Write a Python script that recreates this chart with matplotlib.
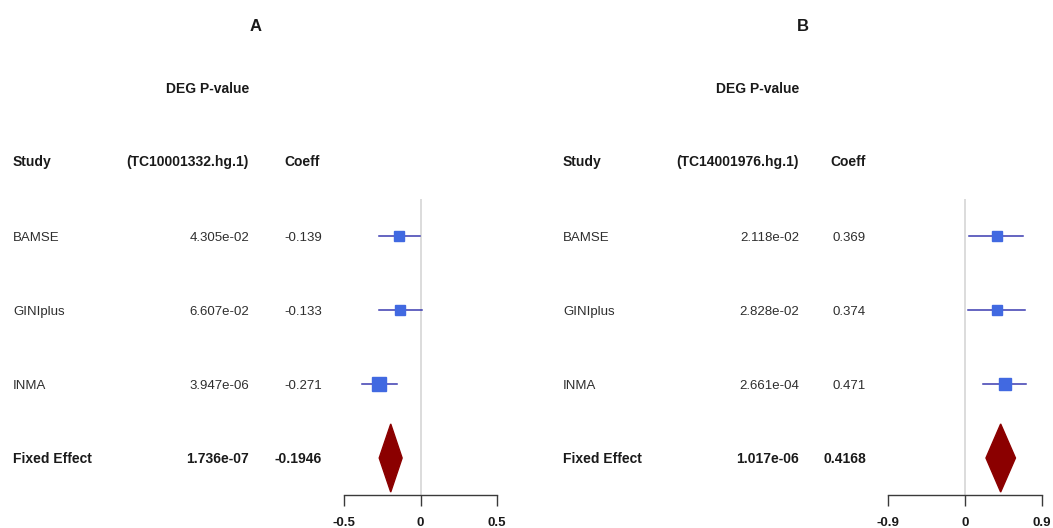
import matplotlib
matplotlib.use("Agg")
import matplotlib.pyplot as plt
from matplotlib.patches import Polygon

plt.rcParams["font.family"] = ["Liberation Sans", "DejaVu Sans"]

W, H = 1053, 528

studies = ["BAMSE", "GINIplus", "INMA"]
summary_label = "Fixed Effect"

# panel A: TC10001332.hg.1
probe_a = "(TC10001332.hg.1)"
pval_a = [4.305e-02, 6.607e-02, 3.947e-06]
coef_a = [-0.139, -0.133, -0.271]
lo_a = [-0.268, -0.268, -0.382]
hi_a = [-0.005, 0.012, -0.155]
fixed_p_a = 1.736e-07
fixed_coef_a = -0.1946
fixed_lo_a, fixed_hi_a = -0.270, -0.120
ticks_a = [-0.5, 0, 0.5]

# panel B: TC14001976.hg.1
probe_b = "(TC14001976.hg.1)"
pval_b = [2.118e-02, 2.828e-02, 2.661e-04]
coef_b = [0.369, 0.374, 0.471]
lo_b = [0.047, 0.035, 0.210]
hi_b = [0.678, 0.700, 0.710]
fixed_p_b = 1.017e-06
fixed_coef_b = 0.4168
fixed_lo_b, fixed_hi_b = 0.245, 0.590
ticks_b = [-0.9, 0, 0.9]

box_sizes_a = [7.5, 7.5, 9.5]
box_sizes_b = [7.5, 7.5, 9.0]

TXT = "#1a1a1a"
TXT_REG = "#2e2e2e"
ROW0, ROWSTEP = 236, 74


def fx(px):
    return px / W


def fy(py):
    # py is the visual centre of a text line; shift down to its baseline
    return 1 - (py + 5) / H


def row_y(i):
    return ROW0 + ROWSTEP * i


def txt(x, y, s, ha, bold=False, size=10):
    fig.text(fx(x), fy(y), s, ha=ha, va="baseline", fontsize=size,
             fontweight="bold" if bold else "normal",
             color=TXT if bold else TXT_REG)


def panel(x0, title, probe, pvals, coefs, los, his, fp, fc, flo, fhi,
          ticks, ax_left, ax_right, sizes, title_x, coef_x, coef_head_x):
    fig.text(fx(title_x), 1 - 31 / H, title, ha="center", va="baseline",
             fontsize=12, fontweight="bold", color=TXT)
    txt(x0 + 249, 88, "DEG P-value", "right", True)
    txt(x0 + 13, 161, "Study", "left", True)
    txt(x0 + 249, 161, probe, "right", True)
    txt(coef_head_x, 161, "Coeff", "right", True)
    for i, s in enumerate(studies):
        y = row_y(i)
        txt(x0 + 13, y, s, "left", size=9.5)
        txt(x0 + 249, y, "%.3e" % pvals[i], "right", size=9.5)
        txt(coef_x, y, "%g" % coefs[i], "right", size=9.5)
    y = row_y(3)
    txt(x0 + 13, y, summary_label, "left", True)
    txt(x0 + 249, y, "%.3e" % fp, "right", True)
    txt(coef_x, y, "%g" % fc, "right", True)

    top, bottom = row_y(-0.5), row_y(3.5)
    ax = fig.add_axes([ax_left / W, 1 - bottom / H, (ax_right - ax_left) / W,
                       (bottom - top) / H])
    ax.set_xlim(ticks[0], ticks[-1])
    ax.set_ylim(3.5, -0.5)
    ax.axvline(0, color="#dcdcdc", lw=1.4, zorder=0)
    for i in range(len(studies)):
        ax.plot([los[i], his[i]], [i, i], color="#3a3ab0", lw=1.1, zorder=2)
        ax.plot(coefs[i], i, marker="s", ms=sizes[i], color="#4169e1",
                mec="#4169e1", zorder=3, clip_on=False)
    d = Polygon([[flo, 3], [fc, 2.54], [fhi, 3], [fc, 3.46]],
                closed=True, color="#8b0000", zorder=3)
    ax.add_patch(d)
    for side in ["left", "right", "top"]:
        ax.spines[side].set_visible(False)
    ax.spines["bottom"].set_color("#3a3a3a")
    ax.spines["bottom"].set_linewidth(1.0)
    ax.set_yticks([])
    ax.set_xticks(ticks)
    ax.set_xticklabels([("%g" % t) for t in ticks], fontweight="bold", fontsize=9.5,
                       color=TXT)
    ax.tick_params(axis="x", length=8, width=1.0, color="#3a3a3a", pad=8)
    ax.patch.set_visible(False)


fig = plt.figure(figsize=(W / 100, H / 100), dpi=100)
panel(0, "A", probe_a, pval_a, coef_a, lo_a, hi_a, fixed_p_a, fixed_coef_a,
      fixed_lo_a, fixed_hi_a, ticks_a, 344, 497, box_sizes_a, 256, 322, 320)
panel(550, "B", probe_b, pval_b, coef_b, lo_b, hi_b, fixed_p_b, fixed_coef_b,
      fixed_lo_b, fixed_hi_b, ticks_b, 888, 1042, box_sizes_b, 803, 866, 866)

fig.savefig("out.png", dpi=100, facecolor="white")
